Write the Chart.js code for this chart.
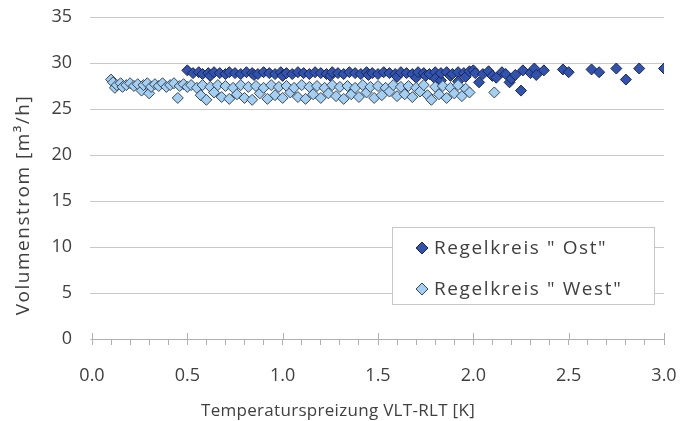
<!DOCTYPE html>
<html>
<head>
<meta charset="utf-8">
<script src="https://cdn.jsdelivr.net/npm/chart.js@4"></script>
<style>
  html, body { margin: 0; padding: 0; background: #fff; }
  #wrap { width: 694px; height: 421px; }
</style>
</head>
<body>
<div id="wrap"><canvas id="chart" width="694" height="421"></canvas></div>
<script>
// Regelkreis "Ost" (dunkelblau)
const ostX = [0.50, 0.53, 0.56, 0.58, 0.61, 0.62, 0.64, 0.67, 0.70, 0.72, 0.75, 0.78, 0.81, 0.84, 0.85, 0.87, 0.90, 0.93, 0.96, 0.99, 1.00,
  1.02, 1.05, 1.08, 1.11, 1.14, 1.17, 1.20, 1.23, 1.25, 1.26, 1.29, 1.32, 1.35, 1.38, 1.41, 1.44, 1.45, 1.47, 1.50, 1.53, 1.56,
  1.59, 1.60, 1.62, 1.65, 1.68, 1.70, 1.71, 1.74, 1.75, 1.77, 1.80, 1.80, 1.83, 1.83, 1.86, 1.88, 1.89, 1.92, 1.92, 1.95, 1.96,
  1.98, 2.00, 2.01, 2.03, 2.05, 2.08, 2.10, 2.12, 2.15, 2.17, 2.19, 2.20, 2.22, 2.25, 2.26, 2.30, 2.32, 2.33, 2.37, 2.47, 2.50,
  2.62, 2.66, 2.75, 2.80, 2.87, 3.00];
const ostY = [29.2, 28.9, 29.0, 28.8, 28.9, 28.6, 29.0, 28.9, 28.8, 29.0, 28.9, 28.8, 29.0, 28.9, 28.7, 28.8, 29.0, 28.9, 28.8, 29.0, 28.6,
  28.9, 28.8, 29.0, 28.9, 28.8, 29.0, 28.9, 28.8, 28.6, 29.0, 28.9, 28.8, 29.0, 28.9, 28.8, 29.0, 28.7, 28.9, 28.8, 29.0, 28.9,
  28.8, 28.5, 29.0, 28.9, 28.8, 28.4, 29.0, 28.9, 28.6, 28.8, 29.0, 28.3, 28.1, 28.9, 29.0, 28.6, 28.8, 29.0, 28.0, 28.9, 28.5,
  29.1, 29.2, 28.9, 27.9, 28.8, 29.1, 28.6, 28.4, 29.0, 28.8, 27.9, 28.3, 28.7, 27.0, 29.2, 28.9, 29.4, 28.7, 29.2, 29.3, 29.0,
  29.3, 29.0, 29.4, 28.2, 29.4, 29.4];

// Regelkreis "West" (hellblau)
const westX = [0.10, 0.11, 0.12, 0.13, 0.15, 0.16, 0.18, 0.20, 0.22, 0.24, 0.26, 0.27, 0.29, 0.30, 0.31, 0.33, 0.35, 0.37, 0.39,
  0.41, 0.43, 0.45, 0.46, 0.48, 0.50, 0.52, 0.55, 0.57, 0.58, 0.60, 0.62, 0.64, 0.66, 0.68, 0.70, 0.72, 0.74, 0.76, 0.78, 0.80,
  0.82, 0.84, 0.86, 0.88, 0.90, 0.92, 0.94, 0.96, 0.98, 1.00, 1.02, 1.04, 1.06, 1.08, 1.10, 1.12, 1.14, 1.16, 1.18, 1.20, 1.22,
  1.24, 1.26, 1.28, 1.30, 1.32, 1.34, 1.36, 1.38, 1.40, 1.42, 1.44, 1.46, 1.48, 1.50, 1.52, 1.54, 1.56, 1.58, 1.60, 1.62, 1.64,
  1.66, 1.68, 1.70, 1.72, 1.74, 1.76, 1.78, 1.80, 1.82, 1.84, 1.86, 1.88, 1.90, 1.92, 1.94, 1.96, 1.98, 2.11];
const westY = [28.2, 27.9, 27.3, 27.6, 27.8, 27.4, 27.6, 27.8, 27.5, 27.7, 27.0, 27.6, 27.8, 26.7, 27.4, 27.7, 27.5, 27.8, 27.4,
  27.6, 27.8, 26.2, 27.5, 27.7, 27.4, 27.6, 27.3, 26.5, 27.6, 26.0, 27.4, 26.8, 27.6, 26.3, 27.5, 26.1, 27.3, 26.6, 27.6, 26.2,
  27.4, 26.0, 27.5, 26.7, 27.3, 26.1, 27.6, 26.5, 27.4, 26.2, 27.5, 26.8, 27.3, 26.3, 27.6, 26.1, 27.4, 26.6, 27.5, 26.2, 27.3,
  26.7, 27.6, 26.4, 27.4, 26.1, 27.5, 26.6, 27.3, 26.3, 27.6, 26.8, 27.4, 26.2, 27.5, 26.5, 27.3, 26.9, 27.6, 26.4, 27.4, 26.6,
  27.5, 26.3, 27.3, 26.9, 27.6, 26.5, 26.0, 27.4, 26.6, 27.5, 26.2, 27.3, 26.7, 27.6, 26.4, 27.2, 26.8, 26.8];

const yTicks = [0, 5, 10, 15, 20, 25, 30, 35];
const xTickLabels = ["0.0", "0.5", "1.0", "1.5", "2.0", "2.5", "3.0"];
const seriesNames = ['Regelkreis " Ost"', 'Regelkreis " West"'];
const xTitle = "Temperaturspreizung VLT-RLT [K]";
const yTitle = "Volumenstrom [m³/h]";

const FONT = "'Open Sans', sans-serif";
const TEXT = "#404040";
const OST_FILL = "#3153b0", OST_EDGE = "#1c2550";
const WEST_FILL = "#a3cff2", WEST_EDGE = "#3a4658";

const toPoints = (xs, ys) => xs.map((x, i) => ({ x: x, y: ys[i] }));

// Achsentitel, Hauptstriche und Legende
const extras = {
  id: "extras",
  afterDraw(chart) {
    const c = chart.ctx;
    const xs = chart.scales.x;
    const axisY = chart.chartArea.bottom;
    c.save();
    // Hauptstriche bei 0.5er Schritten ragen nach oben
    c.strokeStyle = "#b0b0b0";
    c.lineWidth = 1;
    for (let k = 0; k < xTickLabels.length; k++) {
      const px = Math.round(xs.getPixelForValue(k * 0.5)) + 0.5;
      c.beginPath();
      c.moveTo(px, axisY - 6);
      c.lineTo(px, axisY);
      c.stroke();
    }
    // Achsentitel
    c.fillStyle = TEXT;
    c.textAlign = "center";
    c.textBaseline = "middle";
    c.font = "17px " + FONT;
    c.letterSpacing = "0.3px";
    c.fillText(xTitle, 338, 411);
    c.save();
    c.translate(24, 205);
    c.rotate(-Math.PI / 2);
    c.font = "19px " + FONT;
    c.letterSpacing = "1.5px";
    c.fillText(yTitle, 0, 0);
    c.restore();
    // Legende
    c.fillStyle = "#fff";
    c.fillRect(392, 227, 262, 77);
    c.strokeStyle = "#c8c8c8";
    c.strokeRect(392.5, 227.5, 262, 77);
    const items = [
      { y: 248, fill: OST_FILL, edge: OST_EDGE, name: seriesNames[0] },
      { y: 289, fill: WEST_FILL, edge: WEST_EDGE, name: seriesNames[1] }
    ];
    c.textAlign = "left";
    c.font = "19px " + FONT;
    c.letterSpacing = "1.6px";
    items.forEach(it => {
      c.beginPath();
      c.moveTo(422, it.y - 6);
      c.lineTo(428, it.y);
      c.lineTo(422, it.y + 6);
      c.lineTo(416, it.y);
      c.closePath();
      c.fillStyle = it.fill;
      c.fill();
      c.strokeStyle = it.edge;
      c.stroke();
      c.fillStyle = TEXT;
      c.fillText(it.name, 434, it.y + 1);
    });
    c.restore();
  }
};

new Chart(document.getElementById("chart"), {
  type: "scatter",
  data: {
    datasets: [
      {
        label: seriesNames[1],
        data: toPoints(westX, westY),
        pointStyle: "rectRot",
        pointRadius: 5.5,
        backgroundColor: WEST_FILL,
        borderColor: WEST_EDGE,
        borderWidth: 1
      },
      {
        label: seriesNames[0],
        data: toPoints(ostX, ostY),
        pointStyle: "rectRot",
        pointRadius: 5.5,
        backgroundColor: OST_FILL,
        borderColor: OST_EDGE,
        borderWidth: 1
      }
    ]
  },
  options: {
    responsive: false,
    animation: false,
    layout: { padding: { top: 17, right: 30, left: 0, bottom: 0 } },
    plugins: { legend: { display: false }, tooltip: { enabled: false } },
    scales: {
      x: {
        type: "linear",
        min: 0,
        max: 3,
        afterFit(axis) { axis.height = 82; axis.paddingLeft = 0; axis.paddingRight = 0; },
        afterBuildTicks(axis) {
          const t = [];
          for (let i = 0; i <= 30; i++) t.push({ value: i / 10 });
          axis.ticks = t;
        },
        ticks: {
          autoSkip: false,
          maxRotation: 0,
          padding: 20,
          color: TEXT,
          font: { family: FONT, size: 18 },
          callback: (v) => {
            const k = Math.round(v * 10);
            return k % 5 === 0 ? xTickLabels[k / 5] : "";
          }
        },
        grid: { drawOnChartArea: false, tickLength: 6, color: "#b0b0b0" },
        border: { display: true, color: "#b0b0b0" }
      },
      y: {
        min: 0,
        max: 35,
        afterFit(axis) { axis.width = 92; axis.paddingTop = 0; axis.paddingBottom = 0; },
        afterBuildTicks(axis) { axis.ticks = yTicks.map(v => ({ value: v })); },
        ticks: {
          padding: 18,
          color: TEXT,
          font: { family: FONT, size: 18 }
        },
        grid: { color: "#c8c8c8", tickLength: 2 },
        border: { display: false }
      }
    }
  },
  plugins: [extras]
});
</script>
</body>
</html>
